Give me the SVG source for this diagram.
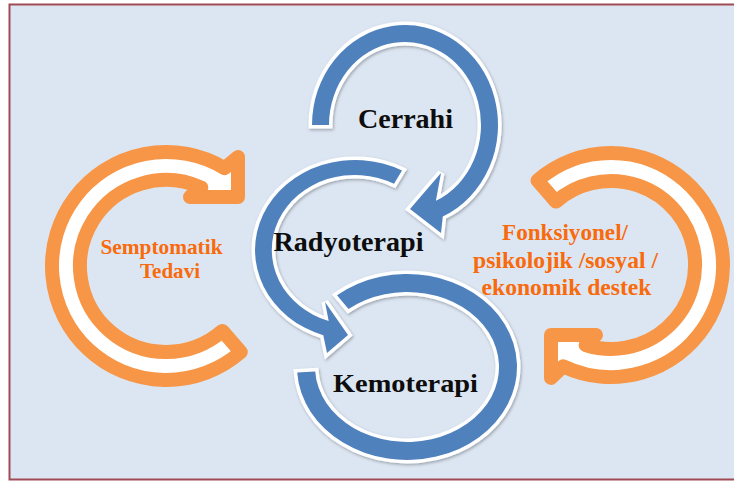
<svg xmlns="http://www.w3.org/2000/svg" width="734" height="482" viewBox="0 0 734 482">
<defs>
<style>
.blue{fill:#4f81bd;stroke:#fff;stroke-width:7;paint-order:stroke;stroke-linejoin:miter;stroke-miterlimit:3;filter:url(#sh)}
.orange{fill:#fff;stroke:#f79646;stroke-width:14;stroke-linejoin:round}
.lbl{font-family:"Liberation Serif","Times New Roman",serif;font-weight:bold;text-anchor:middle}
.dark{fill:#0d0d0d}
.or{fill:#f96a0c}
</style>
<filter id="sh" x="-15%" y="-15%" width="130%" height="130%">
<feDropShadow dx="1" dy="1.5" stdDeviation="1.5" flood-color="#000" flood-opacity="0.3"/>
</filter>
</defs>
<rect x="0" y="0" width="734" height="482" fill="#ffffff"/>
<rect x="9.5" y="4.5" width="740" height="475" fill="#dce6f2" stroke="#a04a55" stroke-width="2"/>

<g id="node-semptomatik">
<path class="orange" d="M 240.8 352 A 114 114 0 1 1 224.6 168.2 L 238 157 L 238 197 L 190 197 L 201.3 187.6 A 86 86 0 1 0 222.4 330.9 Z"/>
<text class="lbl or" font-size="21.5" x="161.5" y="253.5" textLength="122" lengthAdjust="spacingAndGlyphs">Semptomatik</text>
<text class="lbl or" font-size="21.5" x="170" y="278.3" textLength="60" lengthAdjust="spacingAndGlyphs">Tedavi</text>
</g>

<g id="node-destek">
<path class="orange" d="M 537.5 180.5 A 112 112 0 1 1 563.2 366.3 L 551 378 L 551 335 L 596 335 L 585.6 345 A 84 84 0 1 0 555.9 201.6 Z"/>
<text class="lbl or" font-size="23" x="565" y="240" textLength="126" lengthAdjust="spacingAndGlyphs">Fonksiyonel/</text>
<text class="lbl or" font-size="23" x="565.5" y="268" textLength="185" lengthAdjust="spacingAndGlyphs">psikolojik /sosyal /</text>
<text class="lbl or" font-size="23" x="566.5" y="295" textLength="170" lengthAdjust="spacingAndGlyphs">ekonomik destek</text>
</g>

<g id="node-cerrahi">
<path class="blue" d="M 312 125 A 93 100 0 1 1 442.8 216.4 L 441 233 L 410 209 L 441 173 L 435.9 200.8 A 76 83 0 1 0 329 125 Z"/>
<text class="lbl dark" font-size="27" x="405.5" y="127.7" textLength="95" lengthAdjust="spacingAndGlyphs">Cerrahi</text>
</g>

<g id="node-radyoterapi">
<path class="blue" d="M 402 170.5 A 100 90 0 1 0 323.3 335.3 L 327 353 L 348 335 L 325 302 L 328.7 321.1 A 83 75 0 1 1 394 183.8 Z"/>
<text class="lbl dark" font-size="26.5" x="348.5" y="250.5" textLength="150" lengthAdjust="spacingAndGlyphs">Radyoterapi</text>
</g>

<g id="node-kemoterapi">
<path class="blue" d="M 337 295.2 A 110 93 0 1 1 297.2 372.5 L 315.2 371.4 A 92 75 0 1 0 348.5 309.1 Z"/>
<text class="lbl dark" font-size="26" x="405.5" y="392" textLength="145" lengthAdjust="spacingAndGlyphs">Kemoterapi</text>
</g>
</svg>
